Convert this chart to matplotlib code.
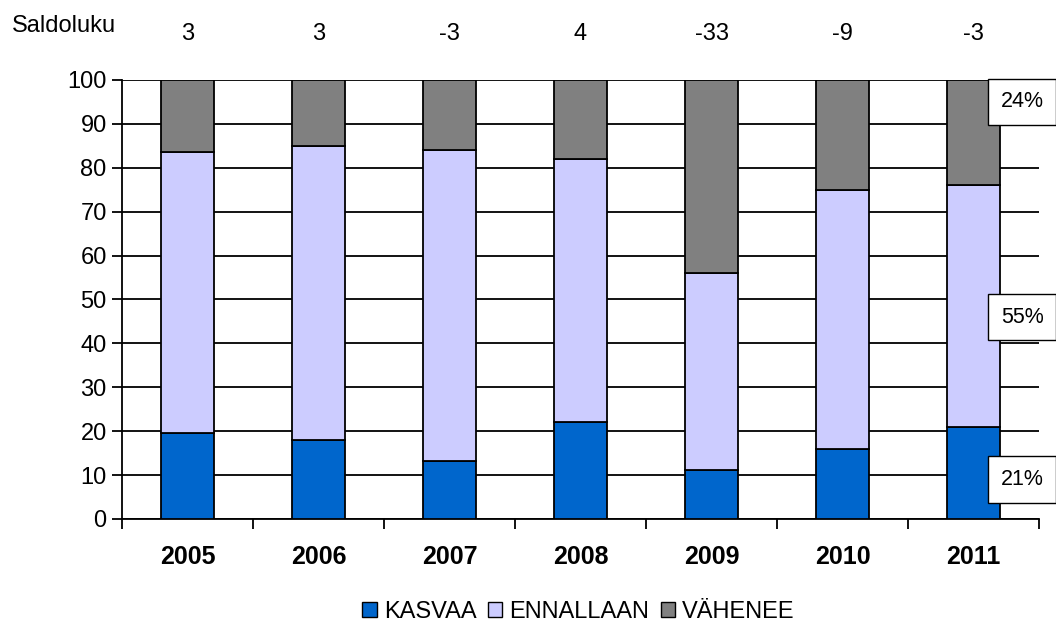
import numpy as np
import matplotlib
matplotlib.use('Agg')
import matplotlib.pyplot as plt
from matplotlib.patches import Patch

plt.rcParams['font.family'] = ['Liberation Sans', 'DejaVu Sans']

years = ["2005", "2006", "2007", "2008", "2009", "2010", "2011"]
kasvaa = [19.5, 18, 13.3, 22, 11.2, 16, 21]
ennallaan = [64, 67, 70.7, 60, 44.8, 59, 55]
vahenee = [16.5, 15, 16, 18, 44, 25, 24]
saldo = ["3", "3", "-3", "4", "-33", "-9", "-3"]
last_labels = ["21%", "55%", "24%"]

COLORS = {"KASVAA": "#0066CC", "ENNALLAAN": "#CCCCFF", "VÄHENEE": "#808080"}

fig = plt.figure(figsize=(10.56, 6.23), dpi=100)
ax = fig.add_axes([0.1155, 0.167, 0.8685, 0.7046])

x = np.arange(len(years))
w = 0.41
bottom = np.zeros(len(years))
for name, vals in zip(COLORS, [kasvaa, ennallaan, vahenee]):
    ax.bar(x, vals, w, bottom=bottom, color=COLORS[name], edgecolor="black",
           linewidth=1.3, zorder=3, label=name)
    bottom += np.array(vals)

ax.set_xlim(-0.5, len(years) - 0.5)
ax.set_ylim(0, 100)
ax.set_yticks(range(0, 101, 10))
ax.tick_params(axis="y", labelsize=17, length=7, width=1.3, pad=4)
ax.grid(axis="y", color="black", linewidth=1.3, zorder=0)

# category boundaries carry the tick marks, year names sit between them
ax.set_xticks(np.arange(len(years) + 1) - 0.5)
ax.set_xticklabels([])
ax.tick_params(axis="x", length=7, width=1.3, direction="out")
ax.set_xticks(x, minor=True)
ax.set_xticklabels(years, minor=True, fontsize=18, fontweight="bold")
ax.tick_params(axis="x", which="minor", length=0, pad=19)

for s in ["top", "right"]:
    ax.spines[s].set_visible(False)
for s in ["left", "bottom"]:
    ax.spines[s].set_linewidth(1.3)

# saldoluku row above the plot
for xi, s in zip(x, saldo):
    ax.text(xi, 1.105, s, transform=ax.get_xaxis_transform(), ha="center",
            va="center", fontsize=17)
fig.text(0.0115, 0.958, "Saldoluku", ha="left", va="center", fontsize=17)

# percentage boxes for the last year
label_y = [9, 46, 95]
for ly, lab in zip(label_y, last_labels):
    ax.text(x[-1] + 0.37, ly, lab, ha="center", va="center", fontsize=15.5,
            clip_on=False, zorder=5,
            bbox=dict(boxstyle="square,pad=0.6", facecolor="white",
                      edgecolor="black", linewidth=1.0))

handles = [Patch(facecolor=c, edgecolor="black", linewidth=1.0, label=n)
           for n, c in COLORS.items()]
fig.legend(handles=handles, loc="center", bbox_to_anchor=(0.548, 0.018),
           ncol=3, frameon=False, fontsize=17, handlelength=0.6,
           handleheight=0.6, handletextpad=0.3, columnspacing=0.5)

fig.savefig("out.png", dpi=100)
